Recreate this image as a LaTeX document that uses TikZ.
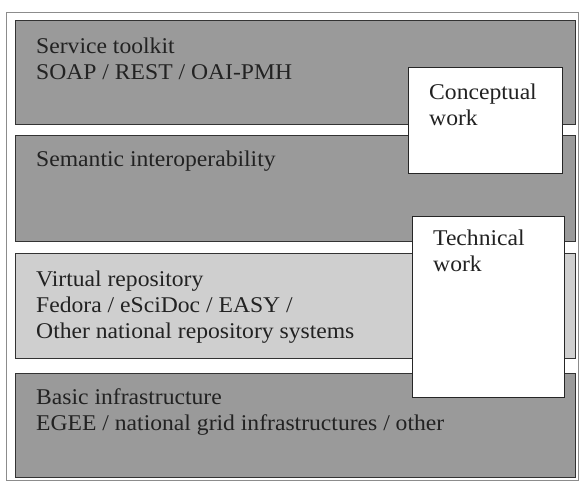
\documentclass[tikz,border=0pt]{standalone}
\usepackage{fontspec}
\setmainfont{Liberation Serif}[FakeStretch=1.05]
\definecolor{bandgray}{HTML}{9A9A9A}
\definecolor{lightband}{HTML}{CFCFCF}
\definecolor{framegray}{HTML}{8C8C8C}
\definecolor{inkcol}{HTML}{222222}
\begin{document}
\begin{tikzpicture}[x=1pt,y=-1pt,
  layer/.style={draw=black!80, line width=1.1pt, anchor=north west, inner sep=0pt, minimum width=560pt},
  darklayer/.style={layer, fill=bandgray},
  lightlayer/.style={layer, fill=lightband},
  workbox/.style={draw=black!85, line width=1.1pt, fill=white, anchor=north west, inner sep=0pt},
  lbl/.style={anchor=base west, inner sep=0pt, align=left, text=inkcol,
    font=\fontsize{22.5}{26}\selectfont}]
\useasboundingbox (0,0) rectangle (579,481);
\fill[white] (0,0) rectangle (579,481);
\node (frame) [draw=framegray, line width=1.2pt, anchor=north west, inner sep=0pt,
  minimum width=572pt, minimum height=468pt] at (6,12) {};
% layers
\node (b1) [darklayer, minimum height=104pt] at (15,20) {};
\node (b2) [darklayer, minimum height=106pt] at (15,135) {};
\node (b3) [lightlayer, minimum height=105pt] at (15,253) {};
\node (b4) [darklayer, minimum height=104pt] at (15,373) {};
% layer texts (base anchor = baseline of last line)
\node (t1) [lbl] at (36,80) {Service toolkit\\SOAP / REST / OAI-PMH};
\node (t2) [lbl] at (36,167) {Semantic interoperability};
\node (t3) [lbl] at (36,339) {Virtual repository\\Fedora / eSciDoc / EASY /\\Other national repository systems};
\node (t4) [lbl] at (36,431) {Basic infrastructure\\EGEE / national grid infrastructures / other};
% work boxes
\node (cw) [workbox, minimum width=154pt, minimum height=106pt] at (408,67) {};
\node (cwt) [lbl] at (429,126) {Conceptual\\work};
\node (tw) [workbox, minimum width=152pt, minimum height=181pt] at (412,216) {};
\node (twt) [lbl] at (433,272) {Technical\\work};
\end{tikzpicture}
\end{document}
